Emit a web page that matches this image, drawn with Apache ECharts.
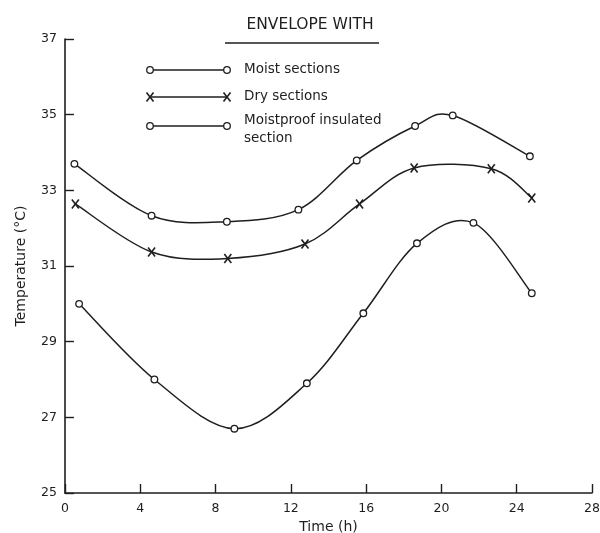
<!DOCTYPE html>
<html>
<head>
<meta charset="utf-8">
<script src="https://cdn.jsdelivr.net/npm/echarts@6/dist/echarts.min.js"></script>
<style>html,body{margin:0;padding:0;background:#fff}#c{width:600px;height:533px}</style>
</head>
<body>
<div id="c"></div>
<script>
// Data
var moistTime = [0.5, 4.6, 8.6, 12.4, 15.5, 18.6, 20.6, 24.7];
var moistTemp = [33.7, 32.33, 32.17, 32.49, 33.79, 34.7, 34.98, 33.9];
var dryTime = [0.55, 4.6, 8.65, 12.75, 15.65, 18.55, 22.65, 24.8];
var dryTemp = [32.64, 31.37, 31.2, 31.58, 32.64, 33.59, 33.57, 32.8];
var insTime = [0.75, 4.75, 9.0, 12.85, 15.85, 18.7, 21.7, 24.8];
var insTemp = [30.0, 28.0, 26.7, 27.9, 29.75, 31.6, 32.14, 30.28];
var xTicks = [0, 4, 8, 12, 16, 20, 24, 28];
var yTicks = [25, 27, 29, 31, 33, 35, 37];
var legendNames = ['Moist sections', 'Dry sections', 'Moistproof insulated\nsection'];
var titleText = 'ENVELOPE WITH';

function pairs(t, v) { return t.map(function (x, i) { return [x, v[i]]; }); }

var ink = '#1e1e1e';
var font = 'DejaVu Sans';

var chart = echarts.init(document.getElementById('c'), null, {renderer: 'canvas'});

function markerEls(kind, x, y) {
  if (kind === 'circle') {
    return [{type: 'circle', shape: {cx: x, cy: y, r: 3.3}, style: {fill: '#fff', stroke: ink, lineWidth: 1.3}, z2: 10}];
  }
  return [
    {type: 'polyline', shape: {points: [[x - 3.5, y - 4.5], [x + 3.5, y + 4.5]]}, style: {stroke: ink, lineWidth: 1.6, fill: null}, z2: 10},
    {type: 'polyline', shape: {points: [[x + 3.5, y - 4.5], [x - 3.5, y + 4.5]]}, style: {stroke: ink, lineWidth: 1.6, fill: null}, z2: 10}
  ];
}

// Smooth curve through the data points (Catmull-Rom as cubic Bezier), positioned via api.coord
function splineSeries(name, t, v, kind) {
  var n = t.length;
  return {
    name: name,
    type: 'custom',
    data: pairs(t, v),
    encode: {x: 0, y: 1},
    renderItem: function (params, api) {
      var i = params.dataIndexInside;
      function P(k) {
        k = Math.max(0, Math.min(n - 1, k));
        return api.coord([api.value(0, k), api.value(1, k)]);
      }
      var p1 = P(i);
      var children = [];
      if (i < n - 1) {
        var p0 = P(i - 1), p2 = P(i + 1), p3 = P(i + 2);
        var c1 = [p1[0] + (p2[0] - p0[0]) / 6, p1[1] + (p2[1] - p0[1]) / 6];
        var c2 = [p2[0] - (p3[0] - p1[0]) / 6, p2[1] - (p3[1] - p1[1]) / 6];
        children.push({
          type: 'bezierCurve',
          shape: {x1: p1[0], y1: p1[1], cpx1: c1[0], cpy1: c1[1], cpx2: c2[0], cpy2: c2[1], x2: p2[0], y2: p2[1]},
          style: {stroke: ink, lineWidth: 1.5, fill: null},
          z2: 1
        });
      }
      children = children.concat(markerEls(kind, p1[0], p1[1]));
      return {type: 'group', children: children};
    },
    z: 3
  };
}

function legendRow(y, kind, label, textY) {
  var els = [
    {type: 'line', shape: {x1: 150, y1: y, x2: 227, y2: y}, style: {stroke: ink, lineWidth: 1.5}}
  ];
  [150, 227].forEach(function (x) { els = els.concat(markerEls(kind, x, y)); });
  els.push({type: 'text', x: 244, y: textY, style: {text: label, font: '13.5px "' + font + '"', fill: ink, lineHeight: 18, verticalAlign: 'top'}});
  return els;
}

var graphics = [
  {type: 'text', x: 310, y: 25, style: {text: titleText, font: '15.5px "' + font + '"', fill: ink, align: 'center', verticalAlign: 'middle'}},
  {type: 'line', shape: {x1: 225, y1: 43, x2: 379, y2: 43}, style: {stroke: ink, lineWidth: 1.7}}
].concat(legendRow(70, 'circle', legendNames[0], 60))
 .concat(legendRow(97, 'x', legendNames[1], 87))
 .concat(legendRow(126, 'circle', legendNames[2], 111));

chart.setOption({
  animation: false,
  backgroundColor: '#fff',
  grid: {left: 65, right: 8, top: 39, bottom: 40, containLabel: false, outerBoundsMode: 'none'},
  xAxis: {
    type: 'value', min: 0, max: 28, interval: 4,
    name: 'Time (h)', nameLocation: 'middle', nameGap: 26,
    nameTextStyle: {fontFamily: font, fontSize: 14, color: ink},
    axisLine: {show: true, lineStyle: {color: ink, width: 1.6}},
    axisTick: {show: true, inside: true, length: 9, lineStyle: {color: ink, width: 1.4}},
    axisLabel: {fontFamily: font, fontSize: 12.5, color: ink, margin: 9,
      formatter: function (v) { return xTicks.indexOf(v) >= 0 ? String(v) : ''; }},
    splitLine: {show: false}
  },
  yAxis: {
    type: 'value', min: 25, max: 37, interval: 2,
    name: 'Temperature (°C)', nameLocation: 'middle', nameGap: 37, nameRotate: 90,
    nameTextStyle: {fontFamily: font, fontSize: 14, color: ink},
    axisLine: {show: true, lineStyle: {color: ink, width: 1.6}},
    axisTick: {show: true, inside: true, length: 9, lineStyle: {color: ink, width: 1.4}},
    axisLabel: {fontFamily: font, fontSize: 12.5, color: ink, margin: 8,
      formatter: function (v) { return yTicks.indexOf(v) >= 0 ? String(v) : ''; }},
    splitLine: {show: false}
  },
  graphic: graphics,
  series: [
    splineSeries(legendNames[0], moistTime, moistTemp, 'circle'),
    splineSeries(legendNames[1], dryTime, dryTemp, 'x'),
    splineSeries(legendNames[2], insTime, insTemp, 'circle')
  ]
});
</script>
</body>
</html>
